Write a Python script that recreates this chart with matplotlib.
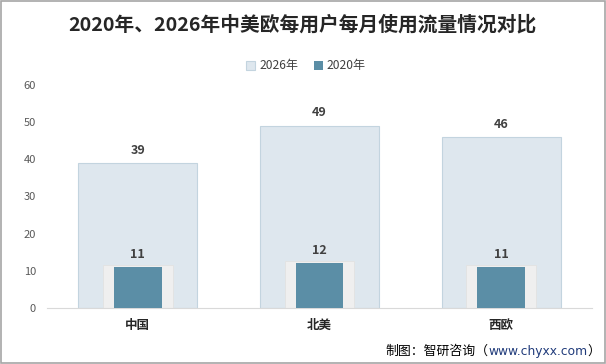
import matplotlib.pyplot as plt
import numpy as np
from matplotlib.patches import Rectangle

plt.rcParams['font.family'] = ['Noto Sans CJK SC', 'DejaVu Sans']

categories = ["中国", "北美", "西欧"]
values_2026 = [39, 49, 46]
values_2020 = [11, 12, 11]
yticks = [0, 10, 20, 30, 40, 50, 60]

fig = plt.figure(figsize=(6.06, 3.64), dpi=100)
ax = fig.add_axes([47/606, 1-308/364, 545/606, 223/364])

x = np.arange(len(categories))
ax.bar(x, values_2026, 0.655, color='#dee7ee', edgecolor='#c3d4df', linewidth=0.8,
       label='2026年', zorder=1)
# light frame behind the 2020 bars
ax.bar(x, [v + 0.6 for v in values_2020], 0.385, color='#efefef', edgecolor='#e2e2e2',
       linewidth=0.6, zorder=2)
ax.bar(x, values_2020, 0.264, color='#5b8ea6', label='2020年', zorder=3)

for xi, v in zip(x, values_2026):
    ax.text(xi, v + 3.5, str(v), ha='center', va='center', fontsize=9,
            fontweight='bold', color='#404040')
for xi, v in zip(x, values_2020):
    ax.text(xi, v + 3.5, str(v), ha='center', va='center', fontsize=9,
            fontweight='bold', color='#404040')

ax.set_xlim(-0.5, 2.5)
ax.set_ylim(0, 60)
ax.set_yticks(yticks)
ax.set_yticklabels([str(t) for t in yticks], fontsize=8, color='#595959')
ax.set_xticks(x)
ax.set_xticklabels(categories, fontsize=9, fontweight='bold', color='#262626')
ax.tick_params(axis='both', length=0)
ax.tick_params(axis='y', pad=8)
ax.tick_params(axis='x', pad=8)
for s in ['top', 'right', 'left']:
    ax.spines[s].set_visible(False)
ax.spines['bottom'].set_color('#d9d9d9')

fig.text(302/606, 1-25/364, "2020年、2026年中美欧每用户每月使用流量情况对比", ha='center',
         va='center', fontsize=14.2, fontweight='bold', color='#262626')

ax.legend(loc='center', bbox_to_anchor=(306/606, 1-66/364), bbox_transform=fig.transFigure,
          ncol=2, frameon=False, fontsize=8.7, handlelength=0.75, handleheight=0.75,
          handletextpad=0.3, columnspacing=1.3, labelcolor='#404040')

# source line, chained from the right edge
r = fig.canvas.get_renderer()
ypos = 1 - 351/364
t3 = fig.text(600/606, ypos, "）", ha='right', va='center', fontsize=9.3, color='#000000')
x3 = t3.get_window_extent(r).x0 / fig.bbox.width
t2 = fig.text(x3, ypos, "www.chyxx.com", ha='right', va='center', fontsize=8.8,
              color='#1f3a7a', family=['DejaVu Sans'])
x2 = t2.get_window_extent(r).x0 / fig.bbox.width
fig.text(x2, ypos, "制图：智研咨询（", ha='right', va='center', fontsize=9.3, color='#000000')

fig.add_artist(Rectangle((0.001, 0.002), 0.997, 0.996, transform=fig.transFigure,
                         fill=False, edgecolor='#a6a6a6', linewidth=1.2))

fig.savefig('out.png', dpi=100)
